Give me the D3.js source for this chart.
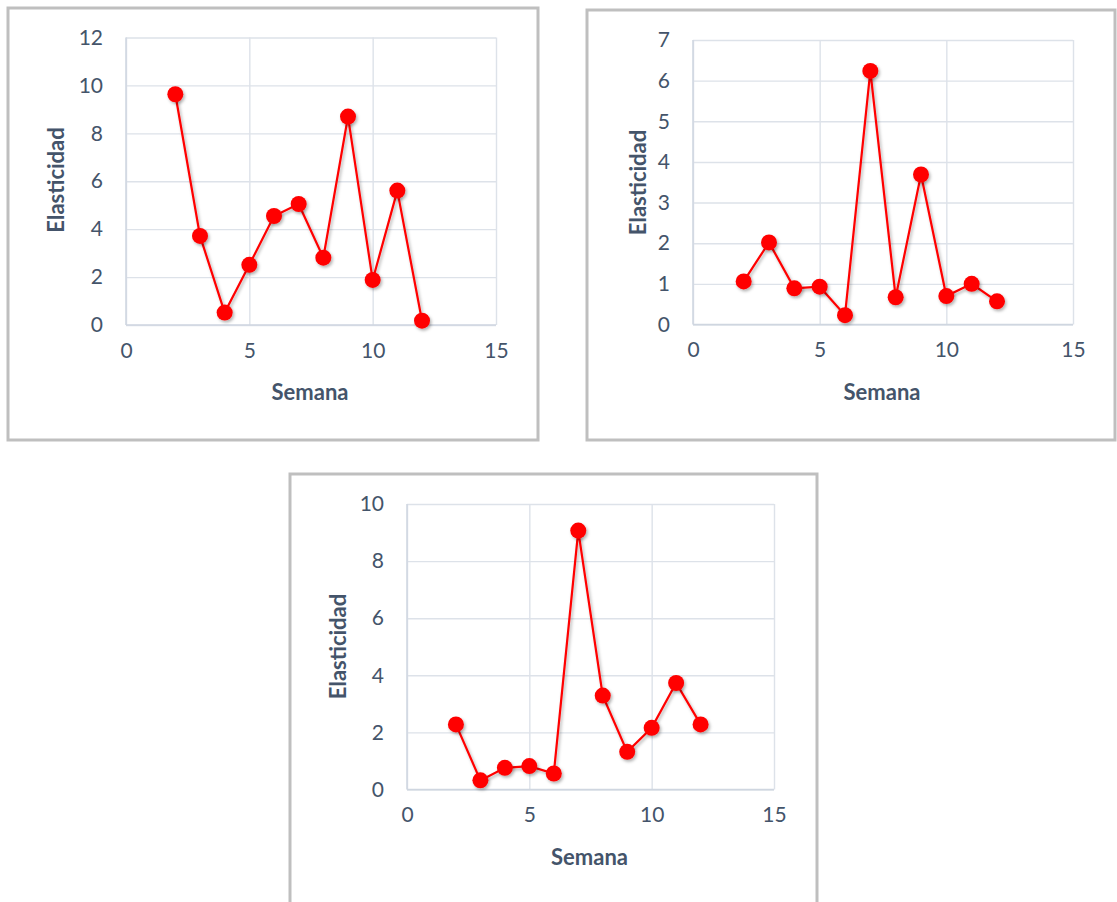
<!DOCTYPE html>
<html>
<head>
<meta charset="utf-8">
<script src="https://cdn.jsdelivr.net/npm/d3@7"></script>
<style>
  html, body { margin: 0; padding: 0; background: #ffffff; }
  svg { display: block; }
</style>
</head>
<body>
<svg id="chart" width="1117" height="902"></svg>
<script>
// ---- data ----
const semanas = [2, 3, 4, 5, 6, 7, 8, 9, 10, 11, 12];
const elasticidad1 = [9.63, 3.72, 0.52, 2.51, 4.55, 5.05, 2.81, 8.70, 1.88, 5.61, 0.18];
const elasticidad2 = [1.06, 2.02, 0.89, 0.93, 0.23, 6.24, 0.67, 3.69, 0.70, 1.00, 0.57];
const elasticidad3 = [2.28, 0.32, 0.76, 0.82, 0.56, 9.07, 3.29, 1.32, 2.16, 3.73, 2.28];
const xTicks = [0, 5, 10, 15];
const yTicks1 = [0, 2, 4, 6, 8, 10, 12];
const yTicks2 = [0, 1, 2, 3, 4, 5, 6, 7];
const yTicks3 = [0, 2, 4, 6, 8, 10];
const xTitle = "Semana";
const yTitle = "Elasticidad";

// ---- layout ----
const panels = [
  { values: elasticidad1, yTicks: yTicks1, box: [8, 8, 538, 440],    plot: [126, 37.5, 496, 325],  yTitlePos: [56.5, 180] },
  { values: elasticidad2, yTicks: yTicks2, box: [587, 10, 1115, 440], plot: [693, 40, 1073, 324.5], yTitlePos: [638.5, 182.5] },
  { values: elasticidad3, yTicks: yTicks3, box: [290, 474, 817, 906], plot: [407, 504, 774, 789.5], yTitlePos: [338, 646.5] }
];

const textColor = "#44546a";
const gridColor = "#dde2e9";
const lineColor = "#ff0000";
const fontFam = "Lato, 'Open Sans', sans-serif";

const svg = d3.select("#chart");
const defs = svg.append("defs");
const f = defs.append("filter").attr("id", "shadow").attr("x", "-50%").attr("y", "-50%").attr("width", "200%").attr("height", "200%");
f.append("feDropShadow").attr("dx", 1.5).attr("dy", 2).attr("stdDeviation", 1.5).attr("flood-color", "#000").attr("flood-opacity", 0.3);

panels.forEach(p => {
  const [bx0, by0, bx1, by1] = p.box;
  const [px0, py0, px1, py1] = p.plot;

  svg.append("rect")
    .attr("x", bx0).attr("y", by0)
    .attr("width", bx1 - bx0).attr("height", by1 - by0)
    .attr("fill", "#ffffff")
    .attr("stroke", "#bfbfbf").attr("stroke-width", 3);

  const x = d3.scaleLinear().domain([0, 15]).range([px0, px1]);
  const y = d3.scaleLinear().domain([0, d3.max(p.yTicks)]).range([py1, py0]);

  // horizontal gridlines + y labels
  const gy = svg.append("g")
    .attr("transform", `translate(${px0},0)`)
    .call(d3.axisLeft(y).tickValues(p.yTicks).tickSize(-(px1 - px0)).tickPadding(23).tickFormat(d3.format("d")));
  gy.select(".domain").remove();
  gy.selectAll(".tick line").attr("stroke", gridColor).attr("stroke-width", 1.4);
  gy.selectAll(".tick text").attr("fill", textColor).attr("font-size", 21).attr("font-family", fontFam);

  // vertical gridlines + x labels
  const gx = svg.append("g")
    .attr("transform", `translate(0,${py1})`)
    .call(d3.axisBottom(x).tickValues(xTicks).tickSize(-(py1 - py0)).tickPadding(18).tickFormat(d3.format("d")));
  gx.select(".domain").remove();
  gx.selectAll(".tick line").attr("stroke", gridColor).attr("stroke-width", 1.4);
  gx.selectAll(".tick text").attr("fill", textColor).attr("font-size", 21).attr("font-family", fontFam);

  // axis lines (slightly darker)
  svg.append("line").attr("x1", px0).attr("x2", px1).attr("y1", py1).attr("y2", py1)
    .attr("stroke", "#cfd6e0").attr("stroke-width", 1.5);
  svg.append("line").attr("x1", px0).attr("x2", px0).attr("y1", py0).attr("y2", py1)
    .attr("stroke", "#cfd6e0").attr("stroke-width", 1.5);

  const pts = semanas.map((s, i) => [s, p.values[i]]);

  svg.append("path")
    .datum(pts)
    .attr("fill", "none")
    .attr("stroke", lineColor)
    .attr("stroke-width", 2.2)
    .attr("filter", "url(#shadow)")
    .attr("d", d3.line().x(d => x(d[0])).y(d => y(d[1])));

  svg.append("g").selectAll("circle")
    .data(pts)
    .join("circle")
    .attr("cx", d => x(d[0]))
    .attr("cy", d => y(d[1]))
    .attr("r", 8)
    .attr("fill", lineColor)
    .attr("filter", "url(#shadow)");

  // axis titles
  svg.append("text")
    .attr("x", (px0 + px1) / 2 - 1).attr("y", py1 + 75)
    .attr("text-anchor", "middle")
    .attr("fill", textColor).attr("font-size", 22).attr("font-weight", "bold")
    .attr("font-family", fontFam)
    .text(xTitle);

  svg.append("text")
    .attr("transform", `translate(${p.yTitlePos[0]},${p.yTitlePos[1]}) rotate(-90)`)
    .attr("text-anchor", "middle")
    .attr("dy", "0.35em")
    .attr("fill", textColor).attr("font-size", 22).attr("font-weight", "bold")
    .attr("font-family", fontFam)
    .text(yTitle);
});
</script>
</body>
</html>
